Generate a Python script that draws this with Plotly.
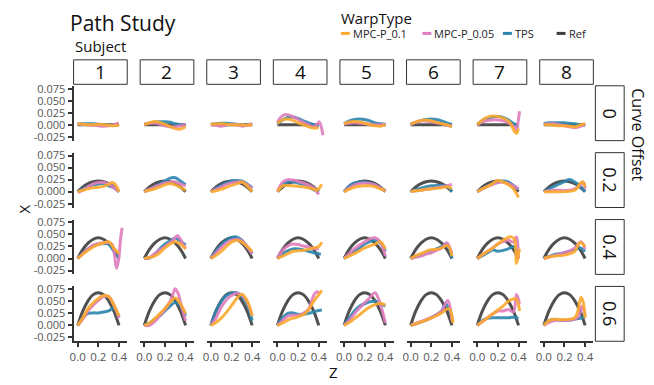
import plotly.graph_objects as go

# ---------------- data ----------------
SUBJECTS = ["1", "2", "3", "4", "5", "6", "7", "8"]
OFFSETS = ["0", "0.2", "0.4", "0.6"]
WARP_TYPES = ["MPC-P_0.1", "MPC-P_0.05", "TPS", "Ref"]
Z_GRID = [0, 0.05, 0.1, 0.15, 0.2, 0.25, 0.3, 0.35, 0.4]
X_TICKS = [0, 0.2, 0.4]
X_TICKTEXT = ["0.0", "0.2", "0.4"]
Y_TICKS = [-0.025, 0, 0.025, 0.05, 0.075]
Y_TICKTEXT = ["-0.025", "0.000", "0.025", "0.050", "0.075"]

# Reference curve for each curve offset (same for every subject), on Z_GRID
REF_X = [
    [0, 0, 0, 0, 0, 0, 0, 0, 0],
    [0, 0.0096, 0.0165, 0.0206, 0.022, 0.0206, 0.0165, 0.0096, 0],
    [0, 0.019, 0.032, 0.040, 0.043, 0.040, 0.032, 0.019, 0],
    [0, 0.030, 0.051, 0.064, 0.068, 0.064, 0.051, 0.030, 0],
]

# Each entry: list of X on Z_GRID, or (Z list, X list)
TPS_X = [
    [[0.001, .002, .002, .002, .001, 0, -.001, -.001, .001],
     [0, .003, .005, .006, .006, .005, .002, 0, -.001],
     [.001, .002, .003, .003, .002, .001, 0, 0, .001],
     [.002, .010, .015, .016, .013, .008, .004, 0, -.003],
     [.002, .008, .011, .012, .011, .008, .004, .002, .001],
     [.001, .005, .009, .011, .012, .011, .008, .004, 0],
     [0, .008, .013, .016, .017, .015, .010, .003, -.004],
     [.002, .004, .004, .004, .004, .003, .002, 0, -.001]],
    [[0, .006, .010, .014, .016, .017, .012, .008, 0],
     [0, .004, .010, .016, .022, .028, .029, .022, .014],
     [0, .007, .013, .018, .022, .023, .022, .016, .008],
     [0, .014, .020, .020, .018, .015, .010, .004, -.001],
     [0, .012, .018, .020, .020, .018, .014, .008, .002],
     [0, .004, .007, .010, .012, .013, .013, .012, 0],
     [0, .006, .012, .017, .020, .022, .020, .013, .005],
     [0, .006, .011, .016, .021, .025, .020, .012, 0]],
    [[0, .011, .020, .026, .030, .031, .030, .015, 0],
     [0, .001, .008, .020, .030, .037, .042, .036, .028],
     [0, .016, .028, .038, .044, .045, .038, .025, .010],
     ([0, .05, .1, .15, .2, .25, .3, .35, .4, .42],
      [0, .010, .016, .020, .020, .018, .015, .012, .010, .009]),
     [0, .008, .015, .022, .030, .035, .038, .033, .015],
     [0, .004, .008, .012, .015, .020, .025, .030, 0],
     [0, .006, .012, .018, .015, .017, .020, .025, .005],
     [0, .004, .008, .010, .012, .015, .018, .022, .015]],
    [[0, .016, .025, .026, .026, .028, .030, .036, .018],
     [0, .005, .012, .020, .030, .040, .048, .040, .020],
     [0, .030, .050, .062, .067, .068, .060, .045, .010],
     ([0, .05, .1, .15, .2, .25, .3, .35, .4, .43],
      [0, .016, .025, .026, .023, .023, .025, .028, .031, .032]),
     [0, .015, .030, .040, .045, .049, .050, .046, .040],
     ([0, .05, .1, .15, .2, .25, .3, .34, .37, .4],
      [0, .003, .007, .011, .016, .022, .030, .045, .035, .015]),
     [0, .010, .015, .016, .016, .016, .016, .017, .015],
     [0, .010, .012, .011, .010, .011, .013, .015, .018]],
]

MPC005_X = [
    [[.002, .001, 0, -.001, -.002, -.003, -.002, 0, .003],
     [.001, .003, .003, .001, -.002, -.004, -.004, -.002, 0],
     [0, -.001, -.003, -.001, .001, 0, -.003, -.001, .002],
     ([0, .03, .07, .1, .15, .2, .25, .3, .35, .38, .405, .425, .44],
      [.005, .015, .021, .021, .017, .011, .005, 0, -.004, 0, .006, -.005, -.022]),
     [.001, .003, .004, .003, .002, .001, 0, 0, 0],
     [.001, .005, .008, .008, .006, .004, .002, -.001, -.003],
     ([0, .05, .1, .15, .2, .25, .3, .35, .38, .395, .41],
      [0, .006, .009, .010, .010, .008, .004, -.003, -.012, .005, .028]),
     [.001, .002, .002, 0, -.002, -.004, -.006, -.004, .002]],
    [[-.002, .003, .010, .016, .019, .019, .016, .008, 0],
     [0, .005, .010, .014, .018, .020, .020, .016, .012],
     [0, .005, .010, .015, .018, .020, .020, .015, .006],
     [0, .020, .025, .024, .021, .018, .014, .008, -.006],
     [0, .008, .014, .017, .018, .017, .014, .008, .001],
     [0, .002, .003, .005, .006, .008, .010, .012, .015],
     [0, .006, .011, .015, .019, .020, .017, .012, .006],
     ([0, .05, .1, .15, .2, .25, .3, .35, .38, .4],
      [0, .002, .003, .003, .002, .003, .006, .013, .020, .006])],
    [([0, .05, .1, .15, .2, .25, .3, .33, .355, .375, .395, .415, .43],
      [0, .010, .020, .028, .031, .033, .033, .030, .010, -.020, -.005, .040, .064]),
     ([0, .05, .1, .15, .2, .25, .3, .32, .35, .4],
      [0, .002, .010, .018, .025, .033, .043, .048, .040, .020]),
     [0, .012, .023, .032, .038, .040, .037, .025, .010],
     [0, .017, .026, .030, .029, .026, .024, .021, .020],
     [0, .010, .020, .028, .035, .041, .043, .035, .005],
     [0, .003, .005, .009, .012, .017, .022, .033, .010],
     ([0, .05, .1, .15, .2, .25, .3, .35, .38, .4],
      [0, .008, .015, .022, .030, .035, .038, .034, .045, 0]),
     ([0, .05, .1, .15, .2, .25, .3, .36, .4],
      [0, .003, .006, .009, .012, .016, .022, .035, .020])],
    [[0, .013, .030, .042, .052, .060, .060, .042, .015],
     ([0, .05, .1, .15, .2, .25, .28, .3, .33, .36, .4],
      [0, 0, .008, .020, .033, .050, .066, .076, .065, .040, .010]),
     [0, .016, .038, .053, .062, .067, .063, .050, .020],
     ([0, .05, .1, .15, .2, .25, .3, .33, .36, .39, .41],
      [0, .010, .019, .021, .021, .025, .033, .050, .066, .070, .065]),
     [0, .010, .024, .036, .047, .058, .068, .045, .005],
     ([0, .05, .1, .15, .2, .25, .3, .36, .4],
      [0, .004, .008, .012, .016, .022, .030, .052, .010]),
     ([0, .05, .1, .15, .2, .25, .3, .35, .38, .41],
      [0, .008, .016, .024, .030, .030, .033, .028, .064, .045]),
     ([0, .05, .1, .15, .2, .25, .3, .34, .37, .4],
      [0, .006, .010, .011, .010, .011, .013, .020, .040, .020])],
]

MPC01_X = [
    [[.002, .001, 0, 0, .001, 0, -.001, -.002, 0],
     [0, .004, .007, .005, .001, -.004, -.008, -.009, -.004],
     [.001, .002, .002, .001, 0, 0, 0, -.001, 0],
     [.003, .010, .012, .009, .004, 0, -.004, -.007, -.006],
     [.002, .006, .007, .006, .003, 0, -.002, -.003, 0],
     [.001, .006, .009, .010, .008, .005, .002, 0, -.004],
     ([0, .05, .1, .15, .2, .25, .3, .33, .36, .38, .4],
      [0, .010, .016, .018, .017, .014, .008, 0, -.014, -.018, -.008]),
     [0, 0, -.001, -.002, -.002, -.003, -.004, -.001, .003]],
    [([0, .05, .1, .15, .2, .25, .3, .33, .36, .4],
      [0, .003, .006, .008, .009, .011, .015, .019, .016, 0]),
     [0, .003, .006, .010, .014, .017, .014, .009, .003],
     [0, .002, .005, .009, .013, .016, .020, .012, 0],
     ([0, .05, .1, .15, .2, .25, .3, .35, .38, .4, .43],
      [0, .012, .013, .012, .011, .010, .008, .005, .003, .006, .015]),
     [0, .005, .009, .011, .012, .012, .010, .006, .002],
     [0, .002, .003, .005, .006, .007, .008, .010, .006],
     ([0, .05, .1, .15, .2, .25, .3, .35, .38, .4],
      [0, .006, .011, .017, .023, .020, .015, .006, -.004, -.012]),
     ([0, .05, .1, .15, .2, .25, .3, .33, .36, .38, .4],
      [0, 0, 0, 0, 0, .001, .003, .010, .019, .020, .010])],
    [[0, .009, .017, .024, .029, .032, .035, .022, .010],
     [0, .002, .005, .012, .022, .030, .035, .030, .020],
     [0, .007, .015, .025, .034, .038, .034, .025, .015],
     ([0, .05, .1, .15, .2, .25, .3, .35, .4, .43],
      [0, .005, .010, .015, .016, .017, .019, .022, .025, .034]),
     [0, .005, .010, .016, .022, .026, .030, .035, .020],
     ([0, .05, .1, .15, .2, .25, .3, .36, .4],
      [0, .006, .010, .015, .018, .019, .022, .027, .005]),
     ([0, .05, .1, .15, .2, .25, .3, .33, .36, .38, .4, .41],
      [0, .008, .015, .022, .030, .038, .044, .045, .040, -.010, .010, .020]),
     [0, .003, .005, .006, .007, .010, .015, .033, .025]],
    [[0, .016, .035, .047, .056, .062, .060, .043, .020],
     [0, .005, .014, .024, .035, .048, .057, .045, .025],
     [0, .006, .015, .027, .041, .056, .065, .052, .020],
     ([0, .05, .1, .15, .2, .25, .3, .35, .4, .43],
      [0, .005, .011, .015, .018, .022, .032, .050, .064, .073]),
     [0, .006, .014, .022, .031, .038, .043, .046, .042],
     ([0, .05, .1, .15, .2, .25, .3, .37, .4, .41],
      [0, .003, .007, .011, .015, .020, .026, .035, .020, .005]),
     ([0, .05, .1, .15, .2, .25, .3, .35, .38, .41],
      [0, .008, .016, .024, .032, .040, .050, .055, .054, .030]),
     ([0, .05, .1, .15, .2, .25, .3, .33, .36, .38, .4],
      [0, .010, .013, .012, .012, .013, .016, .030, .058, .050, .015])],
]

COLORS = {"MPC-P_0.1": "#FBAA2E", "MPC-P_0.05": "#E07DBE", "TPS": "#2C86AE", "Ref": "#3E3E3E"}

# ---------------- layout helpers ----------------
W, H = 654, 385
PX0, PW, PSTEP = 70, 54, 67
PY0, PH, PYSTEP = 82.5, 56, 68.3
X_RANGE = [-0.04, 0.48]
Y_RANGE = [-0.033, 0.081]


def xp(px):
    return px / W


def yp(py):
    return 1 - py / H


def unpack(entry):
    if isinstance(entry, tuple):
        return list(entry[0]), list(entry[1])
    return list(Z_GRID), list(entry)


fig = go.Figure()
layout = {}
for r in range(4):
    for c in range(8):
        n = r * 8 + c + 1
        sfx = "" if n == 1 else str(n)
        xa, ya = "x" + sfx, "y" + sfx
        series = [
            ("Ref", (list(Z_GRID), REF_X[r])),
            ("TPS", unpack(TPS_X[r][c])),
            ("MPC-P_0.05", unpack(MPC005_X[r][c])),
            ("MPC-P_0.1", unpack(MPC01_X[r][c])),
        ]
        for name, (zs, xs) in series:
            fig.add_trace(go.Scatter(
                x=zs, y=xs, mode="lines", name=name, showlegend=False,
                line=dict(color=COLORS[name], width=3, shape="spline", smoothing=1.0),
                opacity=0.9, xaxis=xa, yaxis=ya, hoverinfo="skip"))
        x0 = PX0 + PSTEP * c
        top = PY0 + PYSTEP * r
        bottom = top + PH
        bottom_row = r == 3
        first_col = c == 0
        layout["xaxis" + sfx] = dict(
            domain=[xp(x0), xp(x0 + PW)], range=X_RANGE, anchor=ya,
            showgrid=False, zeroline=False, showline=bottom_row,
            linecolor="#333333", linewidth=2,
            ticks="outside" if bottom_row else "", ticklen=4, tickwidth=2, tickcolor="#333333",
            tickvals=X_TICKS, ticktext=X_TICKTEXT, showticklabels=bottom_row,
            tickfont=dict(size=11.5, color="#555555"), fixedrange=True)
        layout["yaxis" + sfx] = dict(
            domain=[yp(bottom), yp(top)], range=Y_RANGE, anchor=xa,
            showgrid=False, zeroline=False, showline=first_col,
            linecolor="#333333", linewidth=2,
            ticks="outside" if first_col else "", ticklen=4, tickwidth=2, tickcolor="#333333",
            tickvals=Y_TICKS, ticktext=Y_TICKTEXT, showticklabels=first_col,
            tickfont=dict(size=11, color="#555555"), fixedrange=True)

FONT = "Open Sans"
shapes, annots = [], []
# column strips
for c, s in enumerate(SUBJECTS):
    x0 = PX0 + PSTEP * c
    shapes.append(dict(type="rect", xref="paper", yref="paper", x0=xp(x0), x1=xp(x0 + PW),
                       y0=yp(81), y1=yp(56), line=dict(color="#333333", width=1), fillcolor="white"))
    annots.append(dict(text=s, xref="paper", yref="paper", x=xp(x0 + PW / 2), y=yp(68.5),
                       showarrow=False, font=dict(size=19, color="#111111", family=FONT),
                       xanchor="center", yanchor="middle"))
# row strips
for r, o in enumerate(OFFSETS):
    top = PY0 + PYSTEP * r
    shapes.append(dict(type="rect", xref="paper", yref="paper", x0=xp(595), x1=xp(624),
                       y0=yp(top + PH), y1=yp(top), line=dict(color="#333333", width=1), fillcolor="white"))
    annots.append(dict(text=o, xref="paper", yref="paper", x=xp(609.5), y=yp(top + PH / 2),
                       showarrow=False, textangle=90, font=dict(size=18, color="#111111", family=FONT),
                       xanchor="center", yanchor="middle"))

annots += [
    dict(text="Path Study", xref="paper", yref="paper", x=xp(64), y=yp(18), showarrow=False,
         font=dict(size=21, color="#111111", family=FONT), xanchor="left", yanchor="middle"),
    dict(text="Subject", xref="paper", yref="paper", x=xp(69), y=yp(42), showarrow=False,
         font=dict(size=15, color="#111111", family=FONT), xanchor="left", yanchor="middle"),
    dict(text="Curve Offset", xref="paper", yref="paper", x=xp(638), y=yp(132), showarrow=False,
         textangle=90, font=dict(size=16, color="#111111", family=FONT), xanchor="center", yanchor="middle"),
    dict(text="X", xref="paper", yref="paper", x=xp(20), y=yp(208), showarrow=False,
         textangle=-90, font=dict(size=15, color="#111111", family=FONT), xanchor="center", yanchor="middle"),
    dict(text="Z", xref="paper", yref="paper", x=xp(332), y=yp(375), showarrow=False,
         font=dict(size=15, color="#111111", family=FONT), xanchor="center", yanchor="middle"),
    dict(text="WarpType", xref="paper", yref="paper", x=xp(337), y=yp(13), showarrow=False,
         font=dict(size=15, color="#111111", family=FONT), xanchor="left", yanchor="middle"),
]
# legend
LEG_X = [339, 421, 502, 556]
for name, lx in zip(WARP_TYPES, LEG_X):
    shapes.append(dict(type="line", xref="paper", yref="paper", x0=xp(lx), x1=xp(lx + 9),
                       y0=yp(29), y1=yp(29), line=dict(color=COLORS[name], width=3)))
    annots.append(dict(text=name, xref="paper", yref="paper", x=xp(lx + 10), y=yp(29),
                       showarrow=False, font=dict(size=11, color="#222222", family=FONT),
                       xanchor="left", yanchor="middle"))

fig.update_layout(
    width=W, height=H, margin=dict(l=0, r=0, t=0, b=0),
    paper_bgcolor="white", plot_bgcolor="white",
    font=dict(family=FONT), showlegend=False,
    shapes=shapes, annotations=annots, **layout)

fig.write_html("out.html")
